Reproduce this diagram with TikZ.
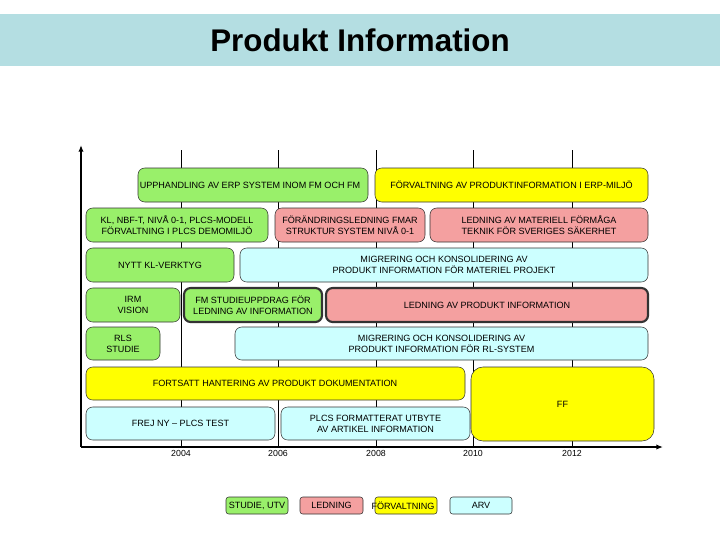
\documentclass[tikz,border=0pt]{standalone}
\usepackage{fontspec}
\setmainfont{Liberation Sans}
\usetikzlibrary{arrows.meta}
\definecolor{band}{HTML}{B4DEE2}
\definecolor{studie}{HTML}{99F06A}
\definecolor{ledning}{HTML}{F4A0A0}
\definecolor{forv}{HTML}{FFFF00}
\definecolor{arv}{HTML}{CCFFFF}
\tikzset{
  box/.style={draw=black!80, rounded corners=5pt, align=center, inner sep=0pt,
    font=\fontsize{6.8}{8.2}\selectfont},
  thickbox/.style={box, line width=1.6pt},
  grid/.style={draw=black, line width=0.4pt},
  axis/.style={draw=black, line width=1.2pt, -{Latex[length=5pt,width=4pt]}},
  year/.style={font=\fontsize{6.6}{8}\selectfont}
}
% box from (x1,y1) to (x2,y2) in pixels
\newcommand{\pbox}[7]{\node[#1, fill=#2, minimum width={(#5-#3)*0.75pt}, minimum height={(#6-#4)*0.75pt}] (#7) at ({(#3+#5)/2},{(#4+#6)/2})}
\begin{document}
\begin{tikzpicture}[x=0.75pt,y=-0.75pt]
  \useasboundingbox (0,0) rectangle (720,540);
  \fill[band] (0,14) rectangle (720,66);
  \node[font=\bfseries\fontsize{23.5}{26}\selectfont] (title) at (360,40) {Produkt Information};

  % grid
  \foreach \gx/\yr in {181/2004,278/2006,376/2008,473/2010,572/2012}{
    \draw[grid] (\gx,150) -- (\gx,447);
    \node[year] at (\gx,453) {\yr};
  }
  \coordinate (o) at (81,447);
  \coordinate (ytop) at (81,145);
  \coordinate (xend) at (663,447);
  \draw[axis] (o) -- (ytop);
  \draw[axis] (o) -- (xend);

  \pbox{box}{studie}{138}{168}{368}{202}{b1} {};
  \node[font=\fontsize{6.8}{8.2}\selectfont] (t1) at (250,185) {UPPHANDLING AV ERP SYSTEM INOM FM OCH FM};
  \pbox{box}{forv}{375}{168}{648}{202}{b2} {FÖRVALTNING AV PRODUKTINFORMATION I ERP-MILJÖ};
  \pbox{box}{studie}{86}{208}{268}{242}{b3} {KL, NBF-T, NIVÅ 0-1, PLCS-MODELL\\FÖRVALTNING I PLCS DEMOMILJÖ};
  \pbox{box}{ledning}{275}{208}{425}{242}{b4} {FÖRÄNDRINGSLEDNING FMAR\\STRUKTUR SYSTEM NIVÅ 0-1};
  \pbox{box}{ledning}{430}{208}{648}{242}{b5} {LEDNING AV MATERIELL FÖRMÅGA\\TEKNIK FÖR SVERIGES SÄKERHET};
  \pbox{box}{studie}{86}{248}{234}{282}{b6} {NYTT KL-VERKTYG};
  \pbox{box}{arv}{240}{248}{648}{282}{b7} {MIGRERING OCH KONSOLIDERING AV\\PRODUKT INFORMATION FÖR MATERIEL PROJEKT};
  \pbox{box}{studie}{86}{288}{180}{322}{b8} {IRM\\VISION};
  \pbox{thickbox}{studie}{184}{288}{322}{322}{b9} {FM STUDIEUPPDRAG FÖR\\LEDNING AV INFORMATION};
  \pbox{thickbox}{ledning}{326}{288}{648}{322}{b10} {LEDNING AV PRODUKT INFORMATION};
  \pbox{box}{studie}{86}{327}{160}{360}{b11} {RLS\\STUDIE};
  \pbox{box}{arv}{235}{327}{648}{360}{b12} {MIGRERING OCH KONSOLIDERING AV\\PRODUKT INFORMATION FÖR RL-SYSTEM};
  \pbox{box}{forv}{86}{367}{465}{400}{b13} {};
  \node[font=\fontsize{6.8}{8.2}\selectfont] (t13) at (275,383) {FORTSATT HANTERING AV PRODUKT DOKUMENTATION};
  \pbox{box, rounded corners=9pt}{forv}{471}{367}{654}{441}{b14} {FF};
  \pbox{box}{arv}{86}{407}{275}{440}{b15} {FREJ NY – PLCS TEST};
  \pbox{box}{arv}{281}{407}{470}{440}{b16} {PLCS FORMATTERAT UTBYTE\\AV ARTIKEL INFORMATION};

  % legend
  \pbox{box, rounded corners=2pt}{studie}{226}{497}{288}{514}{l1} {STUDIE, UTV};
  \pbox{box, rounded corners=2pt}{ledning}{300}{497}{363}{514}{l2} {LEDNING};
  \pbox{box, rounded corners=2pt}{forv}{375}{497}{437}{514}{l3} {};
  \node[font=\fontsize{6.8}{8.2}\selectfont] (t3) at (403,505.5) {FÖRVALTNING};
  \pbox{box, rounded corners=2pt}{arv}{450}{497}{512}{514}{l4} {ARV};
\end{tikzpicture}
\end{document}
